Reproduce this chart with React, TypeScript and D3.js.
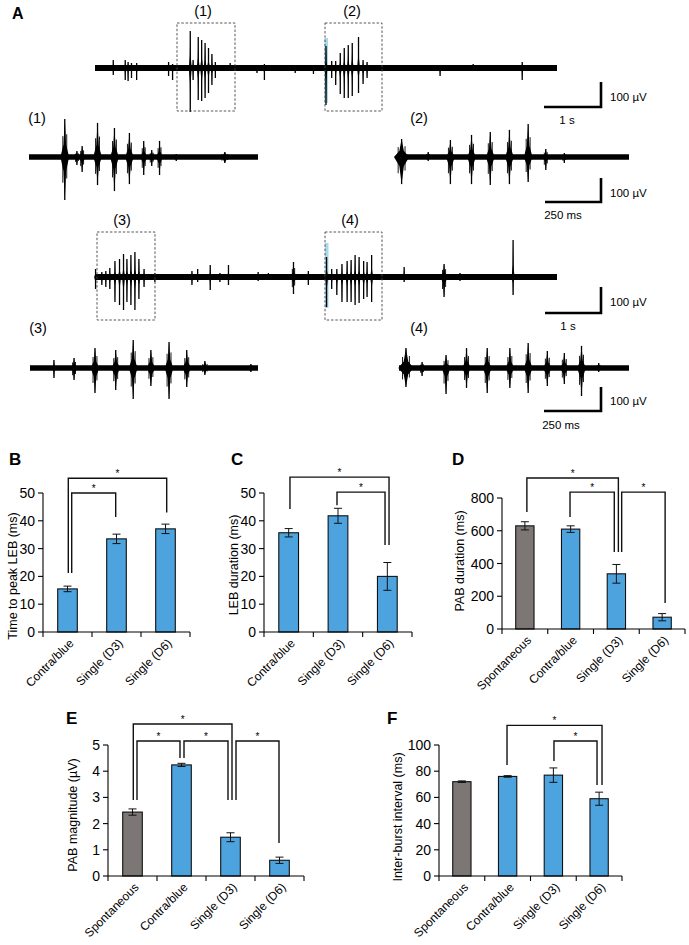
import React from "react";
import * as d3 from "d3";

const FONT = "Arial, 'Liberation Sans', Helvetica, sans-serif";

// ---------- Panel A data: burst events [time, up (µV), down (µV), burst duration?] ----------
type Ev = [number, number, number, number?];

// top recordings: time in s
const traceDurationS = 8.1;
const trace1Events: Ev[] = [
  [0.32, 32, 28], [0.53, 32, 48], [0.58, 24, 52], [0.64, 20, 40], [0.73, 20, 48],
  [1.29, 24, 32], [1.36, 16, 48],
  [1.67, 148, 176], [1.72, 32, 48], [1.81, 124, 128], [1.87, 112, 132], [1.93, 100, 120],
  [1.99, 80, 100], [2.05, 56, 68], [2.11, 24, 40],
  [2.37, 20, 12], [2.84, 12, 20], [2.97, 16, 48], [3.51, 12, 20], [3.83, 12, 24],
  [4.05, 88, 148], [4.15, 28, 40], [4.22, 28, 68], [4.3, 60, 104], [4.37, 80, 120],
  [4.44, 92, 120], [4.51, 100, 112], [4.62, 124, 100], [4.7, 32, 64], [4.77, 24, 40],
  [6.05, 12, 32], [6.63, 16, 8], [7.49, 24, 48],
];
const trace2Events: Ev[] = [
  [0.01, 32, 48], [0.12, 20, 32], [0.19, 24, 40], [0.26, 36, 48], [0.35, 64, 100],
  [0.43, 72, 112], [0.5, 92, 132], [0.56, 72, 100], [0.63, 88, 112], [0.7, 100, 132],
  [0.77, 72, 88], [0.86, 32, 40], [1.05, 16, 20],
  [1.7, 24, 32], [1.8, 32, 20], [2.02, 48, 52], [2.19, 16, 20], [2.34, 48, 32],
  [2.86, 20, 16], [3.04, 16, 12], [3.48, 60, 68, 0.09], [3.74, 24, 32],
  [4.06, 80, 120], [4.15, 32, 48], [4.24, 32, 72], [4.33, 52, 100], [4.42, 64, 100],
  [4.49, 68, 100], [4.56, 88, 112], [4.63, 80, 104], [4.71, 64, 88], [4.77, 60, 80],
  [4.85, 88, 100], [5.42, 40, 20], [6.12, 52, 80, 0.12], [6.4, 16, 16], [7.33, 148, 72],
];
// expanded recordings: time in ms
const zoomDurationMs = 1056;
const zoom1Events: Ev[] = [
  [165, 158, 179, 40], [221, 25, 33], [245, 46, 63], [316, 142, 117, 40], [394, 121, 142, 40],
  [463, 100, 113, 40], [529, 67, 75], [566, 29, 38], [602, 67, 75], [679, 13, 17], [903, 21, 25, 60],
];
const zoom2Events: Ev[] = [
  [12, 75, 113, 70], [134, 21, 17], [236, 71, 113, 40], [333, 92, 113, 40], [419, 104, 117, 40],
  [507, 113, 113, 40], [593, 138, 104, 40], [674, 33, 54], [759, 17, 25],
];
const zoom3Events: Ev[] = [
  [111, 33, 42, 20], [204, 42, 50], [301, 83, 104, 40], [397, 75, 92, 40], [478, 117, 129, 40],
  [560, 75, 75, 40], [644, 108, 129, 40], [726, 75, 79, 40], [810, 29, 29, 45], [1023, 17, 17],
];
const zoom4Events: Ev[] = [
  [32, 83, 79, 70], [106, 25, 33], [216, 54, 108, 40], [310, 83, 83, 40], [405, 83, 104, 40],
  [509, 83, 83, 40], [593, 104, 104, 40], [681, 71, 75, 40], [759, 63, 67, 40], [838, 92, 117, 40],
  [917, 21, 17],
];

// ---------- Bar panels data ----------
const catsThree = ["Contra/blue", "Single (D3)", "Single (D6)"];
const catsFour = ["Spontaneous", "Contra/blue", "Single (D3)", "Single (D6)"];

const valsB = [15.5, 33.5, 37.1];
const errsB = [1.0, 1.7, 1.7];
const valsC = [35.7, 41.8, 20];
const errsC = [1.5, 2.7, 5];
const valsD = [630, 610, 337, 72];
const errsD = [25, 20, 57, 22];
const valsE = [2.44, 4.24, 1.48, 0.6];
const errsE = [0.12, 0.06, 0.17, 0.12];
const valsF = [72, 76, 77, 59];
const errsF = [0.6, 0.6, 5.5, 5];

const ticksB = [0, 10, 20, 30, 40, 50];
const ticksC = [0, 10, 20, 30, 40, 50];
const ticksD = [0, 200, 400, 600, 800];
const ticksE = [0, 1, 2, 3, 4, 5];
const ticksF = [0, 20, 40, 60, 80, 100];

const BLUE = "#4ca3de";
const GRAY = "#7c7774";
const colorsThree = [BLUE, BLUE, BLUE];
const colorsFour = [GRAY, BLUE, BLUE, BLUE];

// significance brackets: from category a (+da px) to b (+db px), heights in data units
type Br = { a: number; da: number; b: number; db: number; top: number; ya: number; yb: number };
const bracketsB: Br[] = [
  { a: 0, da: 0.8, b: 2, db: 1.2, top: 55.3, ya: 21.2, yb: 43 },
  { a: 0, da: 4.2, b: 1, db: -0.8, top: 50, ya: 21.2, yb: 41.4 },
];
const bracketsC: Br[] = [
  { a: 0, da: 1.3, b: 2, db: 1.7, top: 55.7, ya: 44.2, yb: 31.3 },
  { a: 1, da: -1, b: 2, db: -2.3, top: 50.3, ya: 45.6, yb: 31.3 },
];
const bracketsD: Br[] = [
  { a: 0, da: 2, b: 2, db: 2, top: 922, ya: 714, yb: 470 },
  { a: 1, da: -0.6, b: 2, db: -2.1, top: 836, ya: 684, yb: 470 },
  { a: 2, da: 5.3, b: 3, db: 3, top: 836, ya: 470, yb: 159 },
];
const bracketsE: Br[] = [
  { a: 0, da: 0.8, b: 2, db: 1.5, top: 5.8, ya: 2.9, yb: 2.9 },
  { a: 0, da: 4.5, b: 1, db: -1.5, top: 5.15, ya: 2.9, yb: 4.5 },
  { a: 1, da: 2.5, b: 2, db: -2.5, top: 5.15, ya: 4.5, yb: 2.9 },
  { a: 2, da: 5.5, b: 3, db: -0.5, top: 5.15, ya: 2.9, yb: 1.26 },
];
const bracketsF: Br[] = [
  { a: 1, da: -0.6, b: 3, db: 2.9, top: 115, ya: 84.7, yb: 69.5 },
  { a: 2, da: 0.6, b: 3, db: -2.1, top: 103, ya: 87.8, yb: 69.5 },
];

// ---------- components ----------
function Trace(props: {
  x0: number; x1: number; base: number; dur: number; uvPerPx: number;
  events: Ev[]; defW: number; band: number;
}) {
  const { x0, x1, base, dur, uvPerPx, events, defW, band } = props;
  const xs = d3.scaleLinear().domain([0, dur]).range([x0, x1]);
  const ys = d3.scaleLinear().domain([0, uvPerPx]).range([base, base - 1]);
  return (
    <g>
      <rect x={x0} y={base - band / 2} width={x1 - x0} height={band} fill="#000" />
      {events.map((e, i) => {
        const [t, up, down, w] = e;
        const x = xs(t);
        const half = (xs(w ?? defW) - xs(0)) / 2;
        const yt = ys(up);
        const yb = ys(-down);
        const ut = base - (base - yt) * 0.33;
        const db = base + (yb - base) * 0.33;
        const p = d3.path();
        p.moveTo(x - half, base);
        p.lineTo(x - half * 0.3, ut);
        p.lineTo(x, yt);
        p.lineTo(x + half * 0.3, ut);
        p.lineTo(x + half, base);
        p.lineTo(x + half * 0.3, db);
        p.lineTo(x, yb);
        p.lineTo(x - half * 0.3, db);
        p.closePath();
        const side = half * 0.45;
        return (
          <g key={i}>
            <path d={p.toString()} fill="#000" />
            <line x1={x} x2={x} y1={yt} y2={yb} stroke="#000" strokeWidth={1.3} />
            {half > 2.5 && (
              <g stroke="#000" strokeWidth={0.9}>
                <line x1={x - side} x2={x - side} y1={ys(up * 0.55)} y2={ys(-down * 0.6)} />
                <line x1={x + side} x2={x + side} y1={ys(up * 0.6)} y2={ys(-down * 0.5)} />
              </g>
            )}
          </g>
        );
      })}
    </g>
  );
}

function ScaleBar(props: { x: number; yTop: number; yBot: number; xLeft: number; vLabel: string; hLabel: string; hx: number; hy: number; vy: number }) {
  const { x, yTop, yBot, xLeft, vLabel, hLabel, hx, hy, vy } = props;
  return (
    <g>
      <path d={`M${xLeft},${yBot} H${x} V${yTop}`} fill="none" stroke="#000" strokeWidth={2.6} />
      <text x={x + 9} y={vy} fontSize={11.5} fontFamily={FONT}>{vLabel}</text>
      <text x={hx} y={hy} fontSize={11.5} fontFamily={FONT} textAnchor="middle">{hLabel}</text>
    </g>
  );
}

function DashBox(props: { x: number; y: number; w: number; h: number }) {
  return (
    <rect x={props.x} y={props.y} width={props.w} height={props.h} fill="none"
      stroke="#444" strokeWidth={0.9} strokeDasharray="2.5,1.8" />
  );
}

function Label(props: { x: number; y: number; t: string }) {
  return <text x={props.x} y={props.y} fontSize={14.5} fontFamily={FONT} textAnchor="middle">{props.t}</text>;
}

function BarPanel(props: {
  left: number; right: number; top: number; bottom: number; max: number; ticks: number[];
  cats: string[]; vals: number[]; errs: number[]; colors: string[]; brackets: Br[];
  ylabel: string; titleX: number; titleY: number; letter: string; letterX: number; letterY: number;
}) {
  const { left, right, top, bottom, max, ticks, cats, vals, errs, colors, brackets, ylabel, titleX, titleY, letter, letterX, letterY } = props;
  const x = d3.scaleBand<number>().domain(cats.map((_, i) => i)).range([left, right]).paddingInner(0.6).paddingOuter(0.3);
  const y = d3.scaleLinear().domain([0, max]).range([bottom, top]);
  const step = x.step();
  const cx = (i: number) => (x(i) as number) + x.bandwidth() / 2;
  const bounds = d3.range(cats.length + 1).map((k) => left + k * step);
  return (
    <g fontFamily={FONT}>
      <text x={letterX} y={letterY} fontSize={17} fontWeight="bold">{letter}</text>
      {vals.map((v, i) => (
        <rect key={"b" + i} x={x(i)} y={y(v)} width={x.bandwidth()} height={bottom - y(v)}
          fill={colors[i]} stroke="#111" strokeWidth={1.1} />
      ))}
      {vals.map((v, i) => (
        <g key={"e" + i} stroke="#111" strokeWidth={1}>
          <line x1={cx(i)} x2={cx(i)} y1={y(v - errs[i])} y2={y(v + errs[i])} />
          <line x1={cx(i) - 4} x2={cx(i) + 4} y1={y(v - errs[i])} y2={y(v - errs[i])} />
          <line x1={cx(i) - 4} x2={cx(i) + 4} y1={y(v + errs[i])} y2={y(v + errs[i])} />
        </g>
      ))}
      <line x1={left} x2={left} y1={y(max)} y2={bottom} stroke="#000" strokeWidth={1.1} />
      <line x1={left} x2={right} y1={bottom} y2={bottom} stroke="#000" strokeWidth={1.1} />
      {ticks.map((t) => (
        <g key={"t" + t}>
          <line x1={left - 5} x2={left} y1={y(t)} y2={y(t)} stroke="#000" strokeWidth={1.1} />
          <text x={left - 8} y={y(t) + 5} fontSize={14} textAnchor="end">{t}</text>
        </g>
      ))}
      {bounds.map((bx, k) => (
        <line key={"xt" + k} x1={bx} x2={bx} y1={bottom} y2={bottom + 5} stroke="#000" strokeWidth={1.1} />
      ))}
      {cats.map((c, i) => (
        <text key={"c" + i} transform={`translate(${cx(i) + 7},${bottom + 12}) rotate(-45)`}
          fontSize={12} textAnchor="end">{c}</text>
      ))}
      <text transform={`translate(${titleX},${titleY}) rotate(-90)`} fontSize={12.5} textAnchor="middle">{ylabel}</text>
      {brackets.map((b, k) => {
        const xa = cx(b.a) + b.da;
        const xb = cx(b.b) + b.db;
        return (
          <g key={"br" + k}>
            <path d={`M${xa},${y(b.ya)} V${y(b.top)} H${xb} V${y(b.yb)}`} fill="none" stroke="#111" strokeWidth={1.4} />
            <text x={(xa + xb) / 2} y={y(b.top) - 1.5} fontSize={10} textAnchor="middle">*</text>
          </g>
        );
      })}
    </g>
  );
}

export default function App() {
  const topUv = 4; // µV per px
  const zoomUv = 100 / 24;
  return (
    <svg width={689} height={945} viewBox="0 0 689 945"
      style={{ position: "absolute", left: 0, top: 0, background: "#fff" }} fontFamily={FONT}>
      <rect x={0} y={0} width={689} height={945} fill="#fff" />
      <text x={12} y={19} fontSize={16} fontWeight="bold">A</text>

      <Label x={203} y={16} t="(1)" />
      <Label x={352} y={16} t="(2)" />
      <rect x={324.5} y={38} width={3.5} height={65} fill="#a6d9ee" />
      <Trace x0={95} x1={557} base={68} dur={traceDurationS} uvPerPx={topUv} events={trace1Events} defW={0.05} band={6} />
      <DashBox x={177} y={23} w={58} h={88} />
      <DashBox x={325} y={23} w={57} h={88} />
      <ScaleBar x={601} yTop={82} yBot={107} xLeft={544} vLabel="100 µV" hLabel="1 s" hx={567} hy={124} vy={101} />

      <Label x={37} y={123} t="(1)" />
      <Label x={419} y={123} t="(2)" />
      <Trace x0={29} x1={258} base={157} dur={zoomDurationMs} uvPerPx={zoomUv} events={zoom1Events} defW={30} band={5.5} />
      <Trace x0={399} x1={629} base={157} dur={zoomDurationMs} uvPerPx={zoomUv} events={zoom2Events} defW={30} band={5.5} />
      <ScaleBar x={601} yTop={178} yBot={202} xLeft={545} vLabel="100 µV" hLabel="250 ms" hx={563} hy={219} vy={197} />

      <Label x={122} y={225} t="(3)" />
      <Label x={350} y={225} t="(4)" />
      <rect x={325} y={243} width={3.5} height={65} fill="#a6d9ee" />
      <Trace x0={95} x1={557} base={277} dur={traceDurationS} uvPerPx={topUv} events={trace2Events} defW={0.05} band={6} />
      <DashBox x={97} y={232} w={58} h={88} />
      <DashBox x={325} y={232} w={57} h={88} />
      <ScaleBar x={601} yTop={287} yBot={313} xLeft={545} vLabel="100 µV" hLabel="1 s" hx={568} hy={330} vy={306} />

      <Label x={38} y={333} t="(3)" />
      <Label x={419} y={333} t="(4)" />
      <Trace x0={30} x1={258} base={368} dur={zoomDurationMs} uvPerPx={zoomUv} events={zoom3Events} defW={30} band={5.5} />
      <Trace x0={399} x1={629} base={368} dur={zoomDurationMs} uvPerPx={zoomUv} events={zoom4Events} defW={30} band={5.5} />
      <ScaleBar x={601} yTop={387} yBot={411} xLeft={544} vLabel="100 µV" hLabel="250 ms" hx={561} hy={429} vy={405} />

      <BarPanel left={43} right={190} top={493} bottom={632} max={50} ticks={ticksB}
        cats={catsThree} vals={valsB} errs={errsB} colors={colorsThree} brackets={bracketsB}
        ylabel="Time to peak LEB (ms)" titleX={17} titleY={576} letter="B" letterX={9} letterY={465} />
      <BarPanel left={264} right={412} top={493} bottom={632} max={50} ticks={ticksC}
        cats={catsThree} vals={valsC} errs={errsC} colors={colorsThree} brackets={bracketsC}
        ylabel="LEB duration (ms)" titleX={238} titleY={565} letter="C" letterX={231} letterY={465} />
      <BarPanel left={502} right={685} top={498} bottom={629} max={800} ticks={ticksD}
        cats={catsFour} vals={valsD} errs={errsD} colors={colorsFour} brackets={bracketsD}
        ylabel="PAB duration (ms)" titleX={464} titleY={561} letter="D" letterX={452} letterY={465} />
      <BarPanel left={108} right={304} top={745} bottom={876} max={5} ticks={ticksE}
        cats={catsFour} vals={valsE} errs={errsE} colors={colorsFour} brackets={bracketsE}
        ylabel="PAB magnitude (µV)" titleX={77} titleY={815} letter="E" letterX={66} letterY={724} />
      <BarPanel left={439} right={622} top={745} bottom={876} max={100} ticks={ticksF}
        cats={catsFour} vals={valsF} errs={errsF} colors={colorsFour} brackets={bracketsF}
        ylabel="Inter-burst  interval (ms)" titleX={402} titleY={817} letter="F" letterX={387} letterY={724} />
    </svg>
  );
}
